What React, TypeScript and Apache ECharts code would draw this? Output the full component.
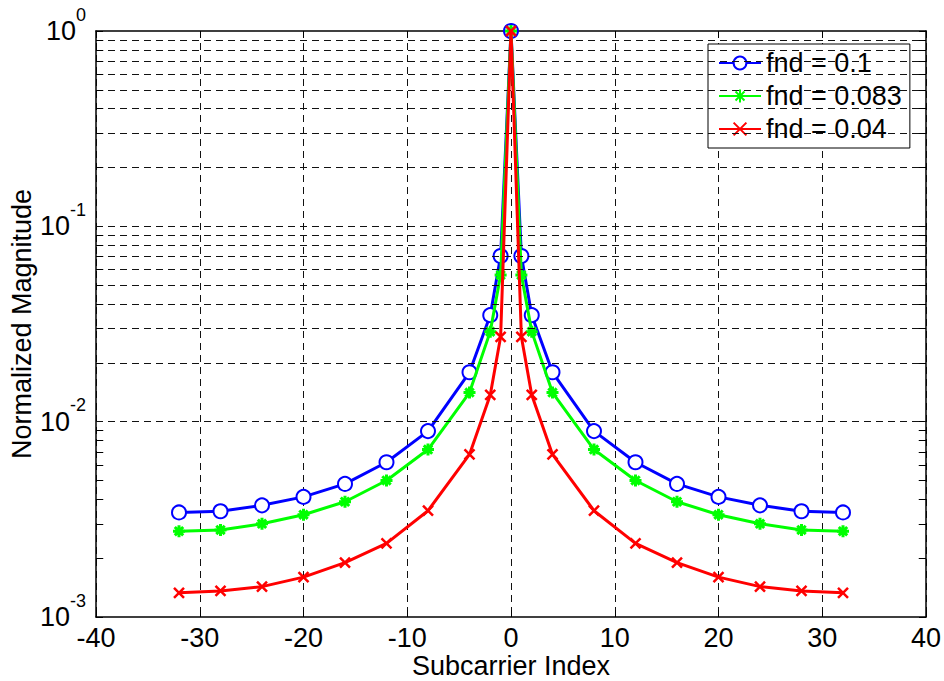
import React, { useEffect, useRef } from "react";
import * as echarts from "echarts";

const subcarrierIndex = [-32, -28, -24, -20, -16, -12, -8, -4, -2, -1, 0, 1, 2, 4, 8, 12, 16, 20, 24, 28, 32];
const magFnd010 = [0.00343, 0.00348, 0.00373, 0.00412, 0.0048, 0.0062, 0.00895, 0.0179, 0.0351, 0.0705, 1, 0.0705, 0.0351, 0.0179, 0.00895, 0.0062, 0.0048, 0.00412, 0.00373, 0.00348, 0.00343];
const magFnd0083 = [0.00275, 0.00279, 0.003, 0.00334, 0.00389, 0.005, 0.0072, 0.0141, 0.0289, 0.0563, 1, 0.0563, 0.0289, 0.0141, 0.0072, 0.005, 0.00389, 0.00334, 0.003, 0.00279, 0.00275];
const magFnd004 = [0.00133, 0.00136, 0.00143, 0.0016, 0.0019, 0.00238, 0.0035, 0.0068, 0.0137, 0.0272, 1, 0.0272, 0.0137, 0.0068, 0.0035, 0.00238, 0.0019, 0.0016, 0.00143, 0.00136, 0.00133];
const seriesNames = ["fnd = 0.1", "fnd = 0.083", "fnd = 0.04"];
const seriesColors = ["#0000ff", "#00ff00", "#ff0000"];
const yGridLevels = [
  0.002, 0.003, 0.004, 0.005, 0.006, 0.007, 0.008, 0.009, 0.01,
  0.02, 0.03, 0.04, 0.05, 0.06, 0.07, 0.08, 0.09, 0.1,
  0.2, 0.3, 0.4, 0.5, 0.6, 0.7, 0.8, 0.9,
];
const yMinorTickLevels = [
  0.002, 0.003, 0.004, 0.005, 0.006, 0.007, 0.008, 0.009,
  0.02, 0.03, 0.04, 0.05, 0.06, 0.07, 0.08, 0.09,
  0.2, 0.3, 0.4, 0.5, 0.6, 0.7, 0.8, 0.9,
];
const xMin = -40;
const xMax = 40;
const xInterval = 10;
const yMin = 0.001;
const yMax = 1;

const FONT = "'Liberation Sans', Arial, Helvetica, sans-serif";

export default function App() {
  const ref = useRef<HTMLDivElement>(null);
  useEffect(() => {
    if (!ref.current) return;
    const chart = echarts.init(ref.current, undefined, { renderer: "svg" });
    const gridDash = { color: "#111", width: 1, type: [7, 5] as any };
    const tickLen = 0.7;
    const minorTickData: any[] = [];
    yMinorTickLevels.forEach((v) => {
      minorTickData.push([{ coord: [xMin, v] }, { coord: [xMin + tickLen, v] }]);
      minorTickData.push([{ coord: [xMax, v] }, { coord: [xMax - tickLen, v] }]);
    });
    const toPairs = (vals: number[]) => subcarrierIndex.map((x, i) => [x, vals[i]]);
    const symbols = [
      "emptyCircle",
      "path://M5,0L5,10M0,5L10,5M1.5,1.5L8.5,8.5M8.5,1.5L1.5,8.5",
      "path://M0,0L10,10M10,0L0,10",
    ];
    const sizes = [14, 12, 10];
    const values = [magFnd010, magFnd0083, magFnd004];
    const dataSeries = seriesNames.map((name, i) => ({
      name,
      type: "line",
      data: toPairs(values[i]),
      symbol: symbols[i],
      symbolSize: sizes[i],
      showAllSymbol: true,
      clip: false,
      z: 3 + i,
      lineStyle: { color: seriesColors[i], width: 3 },
      itemStyle: { color: seriesColors[i], borderColor: seriesColors[i], borderWidth: i === 1 ? 3 : 2.5 },
    }));
    const axisLineStyle = { onZero: false, lineStyle: { color: "#000", width: 1.5 } };
    const option: any = {
      animation: false,
      backgroundColor: "#fff",
      textStyle: { fontFamily: FONT },
      grid: { left: 96, right: 18, top: 31, bottom: 64, containLabel: false, outerBoundsMode: "none" },
      legend: {
        data: seriesNames,
        orient: "vertical",
        left: 708,
        top: 44,
        itemWidth: 42,
        itemHeight: 16,
        itemGap: 5,
        padding: [5, 8, 5, 10],
        backgroundColor: "#fff",
        borderColor: "#000",
        borderWidth: 1,
        borderRadius: 0,
        textStyle: { fontSize: 27, color: "#000", fontFamily: FONT, lineHeight: 28 },
      },
      xAxis: [
        {
          type: "value",
          min: xMin,
          max: xMax,
          interval: xInterval,
          name: "Subcarrier Index",
          nameLocation: "middle",
          nameGap: 35,
          nameMoveOverlap: false,
          nameTextStyle: { fontSize: 27, lineHeight: 27, color: "#000", fontFamily: FONT },
          axisLine: axisLineStyle,
          axisTick: { inside: true, length: 7, lineStyle: { color: "#000", width: 1 } },
          axisLabel: { fontSize: 27, lineHeight: 27, color: "#000", margin: 7, fontFamily: FONT },
          splitLine: { show: true, lineStyle: gridDash },
        },
        {
          type: "value",
          position: "top",
          min: xMin,
          max: xMax,
          interval: xInterval,
          axisLine: axisLineStyle,
          axisTick: { inside: true, length: 7, lineStyle: { color: "#000", width: 1 } },
          axisLabel: { show: false },
          splitLine: { show: false },
        },
      ],
      yAxis: [
        {
          type: "log",
          logBase: 10,
          min: yMin,
          max: yMax,
          name: "Normalized Magnitude",
          nameLocation: "middle",
          nameGap: 60,
          nameMoveOverlap: false,
          nameTextStyle: { fontSize: 27, lineHeight: 28, color: "#000", fontFamily: FONT },
          axisLine: axisLineStyle,
          axisTick: { inside: true, length: 7, lineStyle: { color: "#000", width: 1 } },
          axisLabel: {
            margin: 10,
            color: "#000",
            formatter: (v: number) => `{b|10}{s|${Math.round(Math.log10(v))}}`,
            rich: {
              b: { fontSize: 27, lineHeight: 51, verticalAlign: "middle", fontFamily: FONT, color: "#000" },
              s: { fontSize: 18, lineHeight: 17, verticalAlign: "top", fontFamily: FONT, color: "#000" },
            },
          },
          splitLine: { show: false },
        },
        {
          type: "log",
          logBase: 10,
          min: yMin,
          max: yMax,
          position: "right",
          axisLine: axisLineStyle,
          axisTick: { inside: true, length: 7, lineStyle: { color: "#000", width: 1 } },
          axisLabel: { show: false },
          splitLine: { show: false },
        },
      ],
      series: [
        {
          name: "grid",
          type: "line",
          data: [],
          z: 1,
          silent: true,
          markLine: {
            silent: true,
            symbol: "none",
            label: { show: false },
            lineStyle: gridDash,
            data: yGridLevels.map((v) => ({ yAxis: v })),
          },
        },
        {
          name: "minorTicks",
          type: "line",
          data: [],
          z: 2,
          silent: true,
          markLine: {
            silent: true,
            symbol: "none",
            label: { show: false },
            lineStyle: { color: "#000", width: 1, type: "solid" },
            data: minorTickData,
          },
        },
        ...dataSeries,
      ],
    };
    chart.setOption(option);
    return () => chart.dispose();
  }, []);
  return (
    <div
      ref={ref}
      style={{ position: "fixed", left: 0, top: 0, width: 944, height: 681, background: "#fff" }}
    />
  );
}
